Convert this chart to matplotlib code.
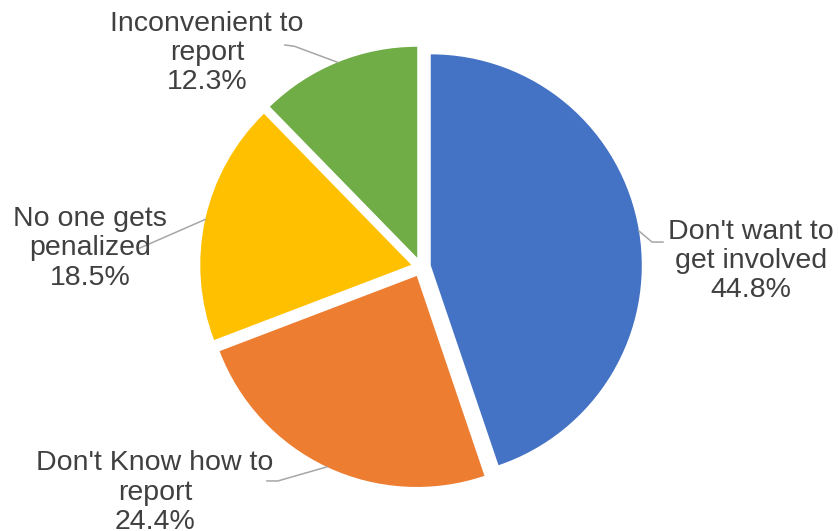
import numpy as np
import matplotlib
matplotlib.use("Agg")
import matplotlib.pyplot as plt

plt.rcParams['font.family'] = ['Liberation Sans', 'DejaVu Sans']

# reasons for not reporting, clockwise from 12 o'clock
reasons = ["Don't want to\nget involved", "Don't Know how to\nreport",
           "No one gets\npenalized", "Inconvenient to\nreport"]
shares = [44.8, 24.4, 18.5, 12.3]
colors = ["#4472C4", "#ED7D31", "#FFC000", "#70AD47"]

# label placement (pie radius = 1) and leader elbows
label_xy = [(1.564, 0.028), (-1.261, -1.07), (-1.569, 0.088), (-1.014, 1.014)]
elbow_xy = [(1.095, 0.118), (-0.678, -1.014), None, (-0.60, 1.046)]
end_xy = [(1.147, 0.118), (-0.730, -1.014), (-1.332, 0.090), (-0.645, 1.052)]

EXPLODE = 0.047

fig = plt.figure(figsize=(8.39, 5.31), dpi=100)
ax = fig.add_axes([0, 0, 1, 1])

wedges, _ = ax.pie(shares, colors=colors, startangle=90, counterclock=False,
                   explode=[EXPLODE] * len(shares), radius=1.0,
                   wedgeprops=dict(linewidth=0))

for w, name, val, lxy, exy, nxy in zip(wedges, reasons, shares,
                                       label_xy, elbow_xy, end_xy):
    mid = np.deg2rad((w.theta1 + w.theta2) / 2)
    cx, cy = w.center
    sx, sy = cx + np.cos(mid), cy + np.sin(mid)
    pts = [(sx, sy)] + ([exy] if exy else []) + [nxy]
    xs, ys = zip(*pts)
    ax.plot(xs, ys, color="#A6A6A6", lw=1.1, zorder=1)
    ax.text(lxy[0], lxy[1], f"{name}\n{val}%", ha="center", va="center",
            fontsize=20.5, color="#404040", linespacing=1.17, zorder=3)

ax.set_xlim(-1.995, 1.981)
ax.set_ylim(-1.251, 1.265)
ax.set_aspect("equal")
ax.axis("off")

fig.savefig("out.png", dpi=100)
